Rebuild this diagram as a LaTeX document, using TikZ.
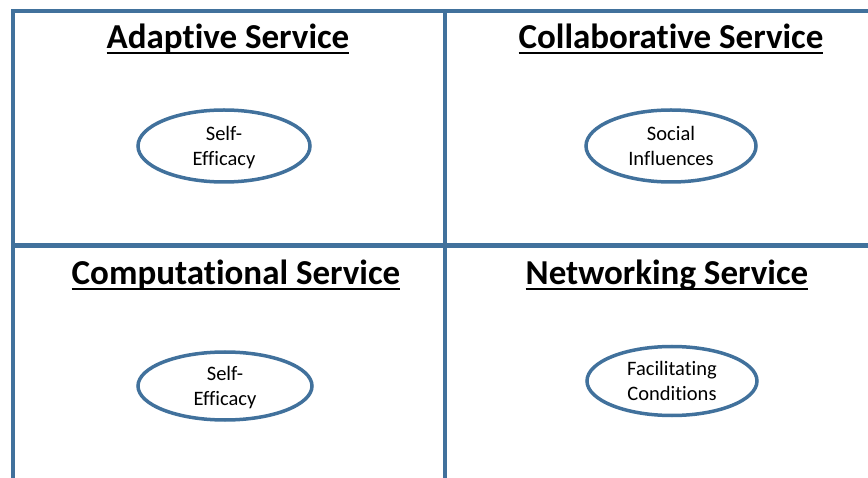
\documentclass[tikz,border=0pt]{standalone}
\usepackage{fontspec}
\setmainfont{Carlito}[Ligatures={NoCommon}]
\usetikzlibrary{positioning,shapes.geometric}
\definecolor{gridblue}{RGB}{65,113,156}
\newcommand{\ultitle}[1]{\setbox0\hbox{#1}\rlap{\rule[-5.5pt]{\wd0}{2.2pt}}\box0}

\begin{document}
\begin{tikzpicture}[x=1pt, y=-1pt,
    frame/.style={draw=gridblue, line width=4.5pt},
    title/.style={font=\fontsize{35}{40}\selectfont\bfseries, anchor=base, inner sep=0pt},
    factor/.style={draw=gridblue, line width=3.5pt, ellipse, minimum width=172pt, minimum height=72pt, align=center, inner sep=0pt, text depth=0pt, font=\fontsize{20.5}{25}\selectfont}
  ]
    \useasboundingbox (0,0) rectangle (868,478);
    % grid of the four quadrants
    \coordinate (topleft) at (13,11);
    \coordinate (midtop) at (445,11);
    \coordinate (midleft) at (13,245.5);
    \draw[frame] (13,478) -- (topleft) -- (868,11);
    \draw[frame] (midtop) -- (445,478);
    \draw[frame] (midleft) -- (868,245.5);

    \node[title] (adaptive) at (228,48.5) {\ultitle{Adaptive Service}};
    \node[title] (collab) at (671,48.5) {\ultitle{Collaborative Service}};
    \node[title] (comput) at (236,284.5) {\ultitle{Computational Service}};
    \node[title] (network) at (667,284.5) {\ultitle{Networking Service}};

    \node[factor] (efficacy1) at (224,146) {Self-\\Efficacy};
    \node[factor, minimum width=170pt] (social) at (671,146) {Social\\Influences};
    \node[factor, minimum width=174pt, minimum height=68pt] (efficacy2) at (225,386) {Self-\\Efficacy};
    \node[factor, minimum width=170pt, minimum height=69pt] (facilit) at (672,381) {Facilitating\\Conditions};
  \end{tikzpicture}
\end{document}
